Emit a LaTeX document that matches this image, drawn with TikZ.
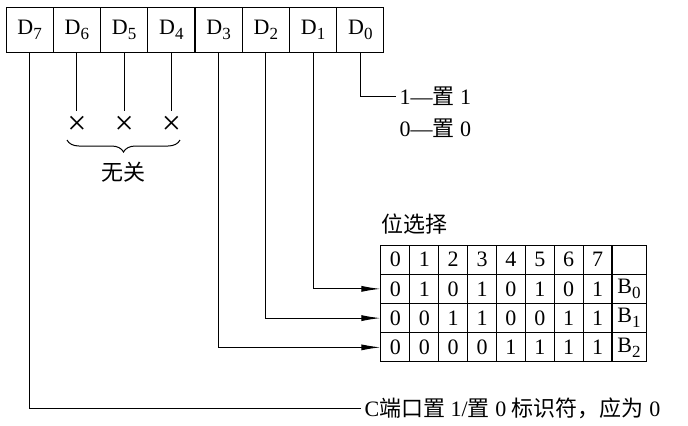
\documentclass[tikz,border=0pt]{standalone}
\usepackage{fontspec}
\setmainfont{Liberation Serif}
\newfontfamily\cjk{Noto Sans CJK SC}
\usetikzlibrary{arrows.meta}
\usetikzlibrary{decorations.pathreplacing}
\newcommand\zh[1]{{\cjk #1}}
\newcommand\dsub[1]{\raisebox{-0.5ex}{\fontsize{8.5}{9}\selectfont #1}}

\begin{document}
\begin{tikzpicture}[x=0.5pt,y=-0.5pt,line width=0.5pt,
    font=\fontsize{11}{13}\selectfont,
    reg/.style={draw,minimum width=23.6pt,minimum height=22.5pt,inner sep=0pt},
    tab/.style={draw,minimum width=14.44pt,minimum height=14.6pt,inner sep=0pt},
    note/.style={anchor=west,inner sep=1.5pt},
    sel/.style={-{Latex[length=9.5pt,width=3pt]}}]
  \useasboundingbox (0,0) rectangle (688,425);

  \foreach \b [count=\i from 0] in {7,6,...,0}
    \node[reg] (d\b) at ({29.6+47.25*\i},29.5) {D\dsub{\b}};

  \foreach \b in {6,5,4} {
    \node[inner sep=0pt,minimum height=14pt,font=\fontsize{17}{17}\selectfont]
      (x\b) at ({29.6+47.25*(7-\b)},125) {×};
    \draw (d\b.south) -- (x\b.north);
  }
  \draw[decorate,decoration={brace,mirror,amplitude=6pt}] (67,140) -- (180,140);
  \node (free) at (123,172) {\zh{无关}};

  \node[note] (set1) at (396,96) {1—\zh{置} 1};
  \node[note] (set0) at (396,128) {0—\zh{置} 0};
  \draw (d0.south) |- (set1.west);

  \node[anchor=west,inner sep=0pt] (title) at (381,224) {\zh{位选择}};
  \foreach \r/\vals in {0/{0,1,2,3,4,5,6,7},1/{0,1,0,1,0,1,0,1},
      2/{0,0,1,1,0,0,1,1},3/{0,0,0,0,1,1,1,1}}
    \foreach \v [count=\c from 0] in \vals
      \node[tab] (t\r-\c) at ({395.4+28.875*\c},{259.6+29.25*\r}) {\v};
  \node[tab,minimum width=17pt] (bh) at (629,259.6) {};
  \foreach \r in {0,1,2}
    \node[tab,minimum width=17pt] (b\r) at (629,{259.6+29.25*(\r+1)}) {B\dsub{\r}};

  \draw[sel] (d1.south) |- (t1-0.west);
  \draw[sel] (d2.south) |- (t2-0.west);
  \draw[sel] (d3.south) |- (t3-0.west);

  \node[note] (cflag) at (361,408) {C\zh{端口置} 1/\zh{置} 0 \zh{标识符，应为} 0};
  \draw (d7.south) |- (cflag.west);
\end{tikzpicture}
\end{document}
